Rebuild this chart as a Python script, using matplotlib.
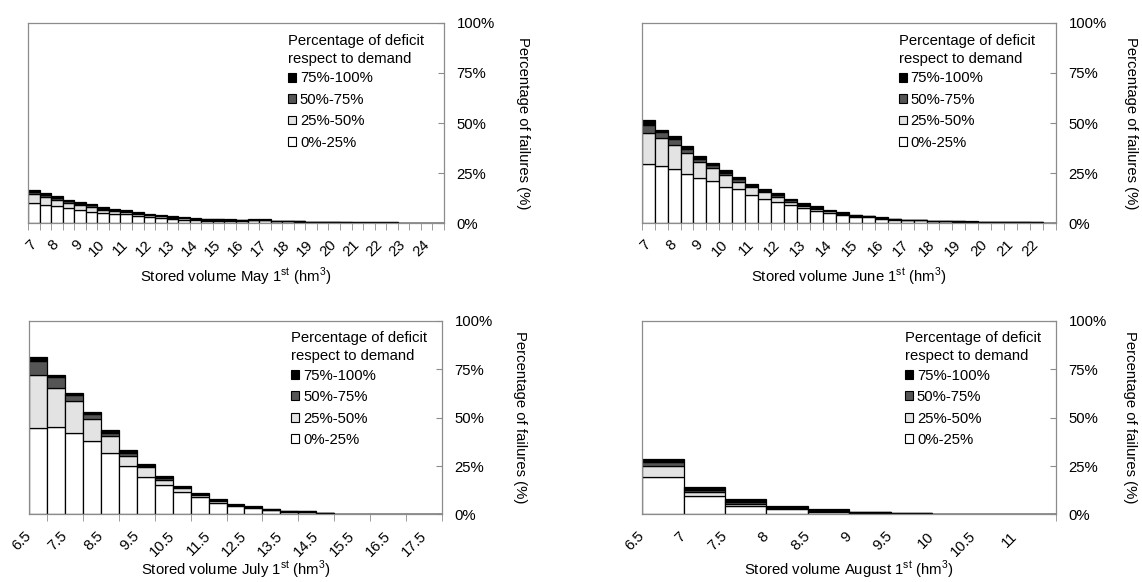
import matplotlib
matplotlib.use('Agg')
import matplotlib.pyplot as plt
from matplotlib.patches import Patch

plt.rcParams['font.family'] = ['Liberation Sans', 'DejaVu Sans']

# ---- May 1st (categories = stored volume, hm3)
may_vol = [7, 7.5, 8, 8.5, 9, 9.5, 10, 10.5, 11, 11.5, 12, 12.5, 13, 13.5, 14, 14.5,
           15, 15.5, 16, 16.5, 17, 17.5, 18, 18.5, 19, 19.5, 20, 20.5, 21, 21.5, 22,
           22.5, 23, 23.5, 24, 24.5]
may_white = [9.8, 9.2, 8.3, 7.5, 6.5, 5.7, 5.0, 4.5, 4.5, 3.5, 3.0, 2.5, 2.0, 1.7, 1.3, 1.2,
             1.2, 1.0, 1.0, 1.3, 1.3, 0.8, 0.8, 0.6, 0.4, 0.4, 0.35, 0.25, 0.2, 0.2, 0.2,
             0.2, 0.1, 0.1, 0, 0]
may_lgray = [4.5, 3.6, 3.2, 2.6, 2.4, 2.4, 1.6, 1.5, 1.2, 1.0, 0.8, 0.8, 0.7, 0.6, 0.5, 0.4,
             0.4, 0.3, 0.3, 0.3, 0.3, 0.2, 0.2, 0.2, 0.1, 0.1, 0.1, 0.05, 0.05, 0.05, 0.05,
             0.05, 0.05, 0.05, 0, 0]
may_dgray = [1.2, 1.0, 0.9, 0.8, 0.7, 0.7, 0.6, 0.6, 0.5, 0.5, 0.35, 0.35, 0.3, 0.25, 0.25, 0.2,
             0.2, 0.3, 0.2, 0.1, 0.1, 0.1, 0.1, 0.1, 0.1, 0.1, 0.1, 0.05, 0.03, 0.03, 0.03,
             0.03, 0.03, 0.03, 0, 0]
may_black = [1.2, 1.0, 0.9, 0.8, 0.7, 0.7, 0.6, 0.6, 0.5, 0.5, 0.35, 0.35, 0.3, 0.25, 0.25, 0.2,
             0.2, 0.2, 0.2, 0.1, 0.1, 0.1, 0.1, 0.1, 0.1, 0.1, 0.05, 0.05, 0.02, 0.02, 0.02,
             0.02, 0.02, 0.02, 0, 0]

# ---- June 1st
jun_vol = [7, 7.5, 8, 8.5, 9, 9.5, 10, 10.5, 11, 11.5, 12, 12.5, 13, 13.5, 14, 14.5,
           15, 15.5, 16, 16.5, 17, 17.5, 18, 18.5, 19, 19.5, 20, 20.5, 21, 21.5, 22, 22.5]
jun_white = [29.5, 28.5, 27.2, 24.3, 22.6, 20.8, 18.2, 16.8, 14.2, 12.0, 10.5, 9.2, 7.3, 6.0,
             5.0, 4.0, 3.2, 2.8, 2.2, 1.7, 1.3, 1.3, 0.9, 0.8, 0.7, 0.6, 0.5, 0.45, 0.4, 0.3,
             0.25, 0]
jun_lgray = [15.5, 14.0, 12.0, 10.7, 7.9, 6.7, 5.8, 3.9, 3.6, 3.5, 2.7, 1.5, 1.3, 1.2, 0.9,
             0.7, 0.5, 0.5, 0.3, 0.3, 0.2, 0.2, 0.1, 0.1, 0.1, 0.1, 0.1, 0.1, 0.05, 0.05,
             0.03, 0]
jun_dgray = [4.2, 2.8, 2.8, 2.2, 1.7, 1.3, 1.2, 1.2, 0.8, 0.7, 0.8, 0.6, 0.5, 0.4, 0.3, 0.2,
             0.2, 0.1, 0.1, 0.1, 0.1, 0.1, 0.1, 0.05, 0.05, 0.05, 0.05, 0.03, 0.03, 0.03,
             0.01, 0]
jun_black = [2.2, 1.3, 1.7, 1.5, 1.5, 1.0, 1.1, 1.1, 1.1, 1.0, 1.0, 0.7, 0.9, 0.7, 0.5, 0.4,
             0.3, 0.3, 0.2, 0.1, 0.1, 0.1, 0.1, 0.05, 0.05, 0.05, 0.05, 0.02, 0.02, 0.02,
             0.01, 0]

# ---- July 1st (bin left edges)
jul_vol = [6.5, 7, 7.5, 8, 8.5, 9, 9.5, 10, 10.5, 11, 11.5, 12, 12.5, 13, 13.5, 14, 14.5,
           15, 15.5, 16, 16.5, 17, 17.5]
jul_white = [44.4, 44.9, 41.8, 37.8, 31.8, 24.8, 19.6, 15.3, 11.8, 8.9, 6.1, 4.3, 3.3, 2.2,
             1.4, 1.3, 0.7, 0.4, 0.4, 0.3, 0.3, 0, 0]
jul_lgray = [27.8, 20.6, 16.5, 11.6, 8.7, 5.6, 4.7, 2.6, 2.0, 1.2, 0.9, 0.6, 0.6, 0.3,
             0.2, 0.2, 0.1, 0.05, 0.05, 0.03, 0.03, 0, 0]
jul_dgray = [7.2, 5.2, 3.5, 2.3, 1.6, 1.4, 0.5, 0.9, 0.3, 0.3, 0.3, 0.2, 0.2, 0.1,
             0.1, 0.1, 0.05, 0.03, 0.03, 0.01, 0.01, 0, 0]
jul_black = [1.7, 1.3, 1.1, 1.4, 1.3, 1.4, 1.2, 1.3, 0.8, 0.9, 0.5, 0.4, 0.3, 0.2,
             0.2, 0.1, 0.05, 0.02, 0.02, 0.01, 0.01, 0, 0]

# ---- August 1st (bin left edges)
aug_vol = [6.5, 7, 7.5, 8, 8.5, 9, 9.5, 10, 10.5, 11]
aug_white = [19.3, 9.6, 4.4, 2.6, 1.4, 0.9, 0.5, 0.2, 0, 0]
aug_lgray = [5.6, 2.1, 1.2, 0.6, 0.6, 0.3, 0.15, 0.05, 0, 0]
aug_dgray = [2.4, 0.9, 0.9, 0.4, 0.5, 0.1, 0.1, 0.03, 0, 0]
aug_black = [1.4, 1.4, 1.4, 0.7, 0.2, 0.2, 0.1, 0.02, 0, 0]

colors = ['white', '#e3e3e3', '#555555', 'black']
cat_labels = ['0%-25%', '25%-50%', '50%-75%', '75%-100%']
frame = '#8c8c8c'
fs = 10.7


def panel(ax, vol, layers, centered, label_pos, xlabel, xlab_y, leg_x, ylab_x):
    align = 'center' if centered else 'edge'
    bottom = [0] * len(vol)
    for h, c in zip(layers, colors):
        ax.bar(vol, h, width=0.5, bottom=bottom, align=align, color=c,
               edgecolor='black', linewidth=0.9, zorder=2)
        bottom = [b + v for b, v in zip(bottom, h)]
    if centered:
        bounds = [v - 0.25 for v in vol] + [vol[-1] + 0.25]
    else:
        bounds = list(vol) + [vol[-1] + 0.5]
    ax.set_xlim(bounds[0], bounds[-1])
    ax.set_ylim(0, 100)
    ax.set_xticks(bounds, minor=True)
    ax.set_xticks(label_pos, ['%g' % v for v in label_pos])
    ax.tick_params(axis='x', which='minor', length=5, direction='out', color=frame)
    ax.tick_params(axis='x', which='major', length=0, pad=14, labelsize=fs)
    for t in ax.get_xticklabels():
        t.set_rotation(45)
        t.set_ha('right')
        t.set_va('center')
        t.set_rotation_mode('anchor')
    ax.yaxis.tick_right()
    ax.set_yticks([0, 25, 50, 75, 100], ['0%', '25%', '50%', '75%', '100%'])
    ax.tick_params(axis='y', direction='in', length=4, color=frame, pad=9, labelsize=fs)
    for s in ax.spines.values():
        s.set_color(frame)
        s.set_linewidth(0.9)
    ax.set_xlabel(xlabel, fontsize=fs)
    ax.xaxis.set_label_coords(0.5, xlab_y)
    ax.text(ylab_x, 0.5, 'Percentage of failures (%)', transform=ax.transAxes,
            rotation=270, ha='center', va='center', fontsize=fs)
    handles = [Patch(facecolor=c, edgecolor='black', linewidth=0.8)
               for c in colors][::-1]
    leg = ax.legend(handles, cat_labels[::-1], title='Percentage of deficit\nrespect to demand',
                    loc='upper left', bbox_to_anchor=(leg_x, 0.945), frameon=False,
                    fontsize=fs, title_fontsize=fs, alignment='left',
                    handlelength=0.55, handleheight=0.55, handletextpad=0.25,
                    labelspacing=0.5, borderpad=0, borderaxespad=0)
    leg.get_title().set_linespacing(1.35)
    leg._legend_box.sep = 4


fig = plt.figure(figsize=(11.42, 5.82), dpi=100)
ax1 = fig.add_axes([0.0245, 0.6168, 0.3643, 0.3437])
ax2 = fig.add_axes([0.5619, 0.6168, 0.3628, 0.3437])
ax3 = fig.add_axes([0.0254, 0.1160, 0.3616, 0.3330])
ax4 = fig.add_axes([0.5624, 0.1160, 0.3623, 0.3330])

panel(ax1, may_vol, [may_white, may_lgray, may_dgray, may_black], True, may_vol[::2],
      'Stored volume May 1$^{\\mathregular{st}}$ (hm$^{\\mathregular{3}}$)', -0.215, 0.625, 1.19)
panel(ax2, jun_vol, [jun_white, jun_lgray, jun_dgray, jun_black], True, jun_vol[::2],
      'Stored volume June 1$^{\\mathregular{st}}$ (hm$^{\\mathregular{3}}$)', -0.215, 0.62, 1.18)
panel(ax3, jul_vol, [jul_white, jul_lgray, jul_dgray, jul_black], False, jul_vol[::2],
      'Stored volume July 1$^{\\mathregular{st}}$ (hm$^{\\mathregular{3}}$)', -0.228, 0.635, 1.19)
panel(ax4, aug_vol, [aug_white, aug_lgray, aug_dgray, aug_black], False, aug_vol,
      'Stored volume August 1$^{\\mathregular{st}}$ (hm$^{\\mathregular{3}}$)', -0.228, 0.635, 1.18)

fig.savefig('out.png', dpi=100)
